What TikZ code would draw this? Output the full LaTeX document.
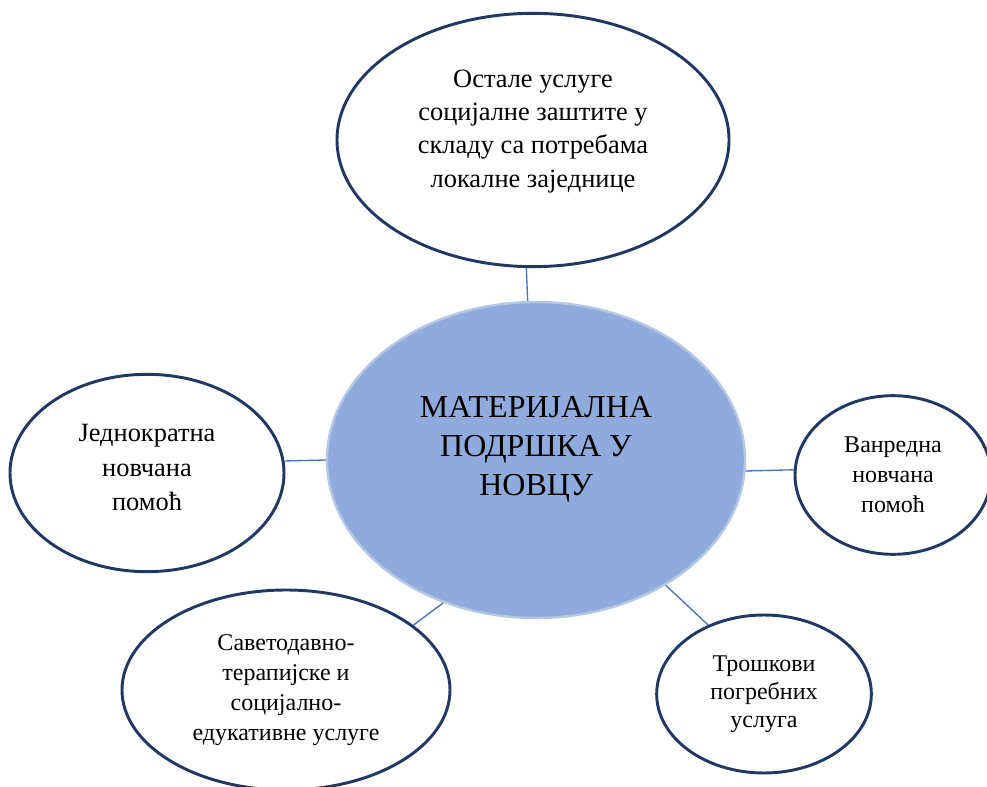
\documentclass[tikz,border=0pt]{standalone}
\usepackage{fontspec}
\setmainfont{Liberation Serif}
\usetikzlibrary{shapes.geometric, positioning}
\definecolor{rimColor}{RGB}{31, 56, 100}
\definecolor{hubColor}{RGB}{143, 170, 220}
\definecolor{hubRim}{RGB}{180, 199, 231}
\definecolor{linkColor}{RGB}{68, 114, 196}

\begin{document}
\begin{tikzpicture}[x=0.75pt, y=-0.75pt,
        bubble/.style={ellipse, draw=rimColor, fill=white, line width=2.2pt, inner sep=0pt},
        txt/.style={align=center, font=\fontsize{18}{25}\selectfont},
        link/.style={draw=linkColor, line width=1pt}]
        \useasboundingbox (0,0) rectangle (987,787);

        % Center
        \node[ellipse, draw=hubRim, fill=hubColor, line width=1.8pt,
              minimum width=313.5pt, minimum height=237pt,
              label={[txt, font=\fontsize{24}{29}\selectfont, yshift=8]center:{МАТЕРИЈАЛНА\\ПОДРШКА У\\НОВЦУ}}]
              (hub) at (536,460) {};

        % Surrounding services
        \node[bubble, minimum width=294pt, minimum height=190pt,
              label={[txt, font=\fontsize{19.8}{25}\selectfont, yshift=6.5]center:{Остале услуге\\социјалне заштите у\\складу са потребама\\локалне заједнице}}]
              (ostale) at (533,140) {};
        \node[bubble, minimum width=205.5pt, minimum height=148pt,
              label={[txt, font=\fontsize{19.8}{26}\selectfont, yshift=4]center:{Једнократна\\новчана\\помоћ}}]
              (jedno) at (147,473) {};
        \node[bubble, minimum width=147pt, minimum height=119pt,
              label={[txt, font=\fontsize{18}{22.5}\selectfont]center:{Ванредна\\новчана\\помоћ}}]
              (vanr) at (893,475) {};
        \node[bubble, minimum width=161pt, minimum height=118.5pt,
              label={[txt, font=\fontsize{18}{21}\selectfont]center:{Трошкови\\погребних\\услуга}}]
              (trosk) at (764,694) {};
        \node[bubble, minimum width=246pt, minimum height=150pt,
              label={[txt, font=\fontsize{18}{22.5}\selectfont]center:{Саветодавно-\\терапијске и\\социјално-\\едукативне услуге}}]
              (savet) at (286,690) {};

        % Links
        \draw[link] (ostale.-93) -- (hub.93);
        \draw[link] (jedno.5) -- (hub.180);
        \draw[link] (hub.-3) -- (vanr.177);
        \draw[link] (hub.-44) -- (trosk.129);
        \draw[link] (hub.-123) -- (savet.27);
    \end{tikzpicture}
\end{document}
